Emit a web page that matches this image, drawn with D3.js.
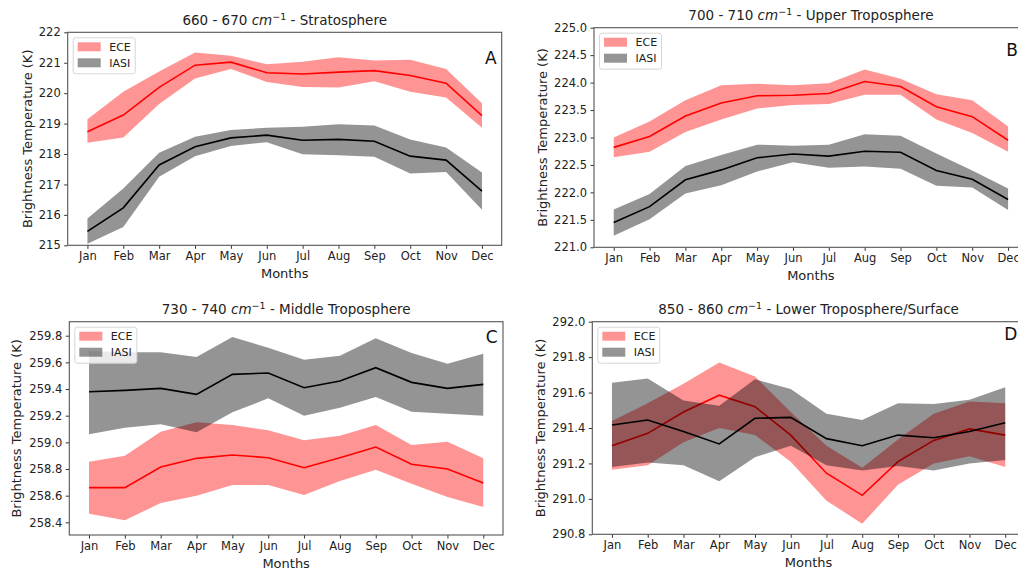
<!DOCTYPE html>
<html>
<head>
<meta charset="utf-8">
<script src="https://cdn.jsdelivr.net/npm/d3@7"></script>
<style>
  body { margin: 0; background: #fff; }
  svg { display: block; font-family: "DejaVu Sans", sans-serif; }
</style>
</head>
<body>
<svg id="chart" width="1018" height="569"></svg>
<script>
// months on the x axis
var months = ["Jan", "Feb", "Mar", "Apr", "May", "Jun", "Jul", "Aug", "Sep", "Oct", "Nov", "Dec"];

// A - 660-670 Stratosphere
var strEceMean = [218.73, 219.28, 220.19, 220.92, 221.02, 220.67, 220.63, 220.69, 220.74, 220.58, 220.33, 219.26];
var strEceHigh = [219.14, 220.05, 220.71, 221.34, 221.23, 220.95, 221.03, 221.18, 221.07, 221.10, 220.79, 219.67];
var strEceLow  = [218.37, 218.54, 219.64, 220.48, 220.79, 220.37, 220.20, 220.19, 220.39, 220.05, 219.86, 218.86];
var strIasiMean = [215.46, 216.23, 217.64, 218.24, 218.53, 218.62, 218.45, 218.48, 218.42, 217.93, 217.80, 216.78];
var strIasiHigh = [215.88, 216.87, 218.04, 218.57, 218.79, 218.86, 218.90, 218.98, 218.94, 218.48, 218.21, 217.39];
var strIasiLow  = [215.05, 215.60, 217.25, 217.93, 218.26, 218.39, 217.99, 217.96, 217.91, 217.36, 217.41, 216.17];

// B - 700-710 Upper Troposphere
var utEceMean = [222.82, 223.02, 223.39, 223.63, 223.76, 223.77, 223.80, 224.02, 223.93, 223.56, 223.38, 222.95];
var utEceHigh = [223.00, 223.29, 223.68, 223.95, 223.98, 223.95, 223.99, 224.24, 224.07, 223.79, 223.68, 223.20];
var utEceLow  = [222.64, 222.74, 223.10, 223.33, 223.53, 223.59, 223.61, 223.78, 223.78, 223.33, 223.08, 222.74];
var utIasiMean = [221.45, 221.74, 222.23, 222.41, 222.63, 222.70, 222.66, 222.75, 222.73, 222.40, 222.24, 221.87];
var utIasiHigh = [221.69, 221.97, 222.48, 222.68, 222.87, 222.85, 222.87, 223.06, 223.03, 222.71, 222.40, 222.07];
var utIasiLow  = [221.21, 221.51, 221.98, 222.13, 222.38, 222.55, 222.45, 222.47, 222.43, 222.12, 222.09, 221.68];

// C - 730-740 Middle Troposphere
var mtEceMean = [258.66, 258.66, 258.815, 258.88, 258.905, 258.885, 258.81, 258.885, 258.965, 258.835, 258.80, 258.695];
var mtEceHigh = [258.855, 258.90, 259.08, 259.15, 259.13, 259.09, 259.015, 259.05, 259.13, 258.98, 259.005, 258.88];
var mtEceLow  = [258.465, 258.415, 258.545, 258.60, 258.68, 258.68, 258.605, 258.71, 258.795, 258.69, 258.59, 258.515];
var mtIasiMean = [259.38, 259.39, 259.405, 259.36, 259.51, 259.52, 259.41, 259.46, 259.56, 259.45, 259.405, 259.435];
var mtIasiHigh = [259.685, 259.675, 259.675, 259.64, 259.79, 259.71, 259.62, 259.65, 259.78, 259.67, 259.59, 259.665];
var mtIasiLow  = [259.06, 259.11, 259.135, 259.075, 259.225, 259.33, 259.20, 259.26, 259.34, 259.23, 259.215, 259.20];

// D - 850-860 Lower Troposphere/Surface
var ltEceMean = [291.30, 291.37, 291.49, 291.585, 291.52, 291.36, 291.145, 291.02, 291.21, 291.33, 291.395, 291.36];
var ltEceHigh = [291.44, 291.54, 291.65, 291.77, 291.69, 291.49, 291.30, 291.175, 291.335, 291.48, 291.55, 291.54];
var ltEceLow  = [291.165, 291.19, 291.32, 291.40, 291.36, 291.21, 290.99, 290.86, 291.08, 291.20, 291.24, 291.18];
var ltIasiMean = [291.417, 291.445, 291.38, 291.31, 291.455, 291.46, 291.34, 291.30, 291.36, 291.345, 291.38, 291.43];
var ltIasiHigh = [291.655, 291.68, 291.555, 291.525, 291.675, 291.62, 291.48, 291.445, 291.54, 291.535, 291.56, 291.63];
var ltIasiLow  = [291.18, 291.205, 291.19, 291.10, 291.235, 291.30, 291.19, 291.16, 291.185, 291.16, 291.20, 291.22];

// y tick values
var strTicks = [215, 216, 217, 218, 219, 220, 221, 222];
var utTicks = [221.0, 221.5, 222.0, 222.5, 223.0, 223.5, 224.0, 224.5, 225.0];
var mtTicks = [258.4, 258.6, 258.8, 259.0, 259.2, 259.4, 259.6, 259.8];
var ltTicks = [290.8, 291.0, 291.2, 291.4, 291.6, 291.8, 292.0];

var panels = [
  { band: "660 - 670 ", region: " - Stratosphere", letter: "A",
    ece: [strEceMean, strEceHigh, strEceLow], iasi: [strIasiMean, strIasiHigh, strIasiLow],
    ticks: strTicks, fmt: d3.format("d"), ydom: [215, 222],
    left: 67.7, top: 32.3, right: 501.7, bottom: 245.3, ylab: 36, letterPos: [490.7, 63.5] },
  { band: "700 - 710 ", region: " - Upper Troposphere", letter: "B",
    ece: [utEceMean, utEceHigh, utEceLow], iasi: [utIasiMean, utIasiHigh, utIasiLow],
    ticks: utTicks, fmt: d3.format(".1f"), ydom: [221, 225],
    left: 594, top: 27.7, right: 1027.8, bottom: 247.3, ylab: 47.5, letterPos: [1012, 56] },
  { band: "730 - 740 ", region: " - Middle Troposphere", letter: "C",
    ece: [mtEceMean, mtEceHigh, mtEceLow], iasi: [mtIasiMean, mtIasiHigh, mtIasiLow],
    ticks: mtTicks, fmt: d3.format(".1f"), ydom: [258.305, 259.905],
    left: 69.3, top: 321.7, right: 503, bottom: 535, ylab: 48, letterPos: [491.7, 342.5] },
  { band: "850 - 860 ", region: " - Lower Troposphere/Surface", letter: "D",
    ece: [ltEceMean, ltEceHigh, ltEceLow], iasi: [ltIasiMean, ltIasiHigh, ltIasiLow],
    ticks: ltTicks, fmt: d3.format(".1f"), ydom: [290.8, 292.0],
    left: 592.3, top: 321.7, right: 1024.9, bottom: 534.3, ylab: 47, letterPos: [1010.7, 340] }
];

var svg = d3.select("#chart");
var red = "#ff0000", alpha = 0.42;

panels.forEach(function(p) {
  var g = svg.append("g");

  var x = d3.scalePoint().domain(months).range([p.left, p.right]).padding(0.55);
  var y = d3.scaleLinear().domain(p.ydom).range([p.bottom, p.top]);

  function band(s) {
    return d3.area()
      .x(function(d, i) { return x(months[i]); })
      .y0(function(d, i) { return y(s[2][i]); })
      .y1(function(d, i) { return y(s[1][i]); })(s[0]);
  }
  var line = d3.line()
    .x(function(d, i) { return x(months[i]); })
    .y(function(d) { return y(d); });

  // clip so things stay in the axes box
  var clipId = "clip" + p.letter;
  g.append("clipPath").attr("id", clipId).append("rect")
    .attr("x", p.left).attr("y", p.top)
    .attr("width", p.right - p.left).attr("height", p.bottom - p.top);
  var plot = g.append("g").attr("clip-path", "url(#" + clipId + ")");

  plot.append("path").attr("d", band(p.ece)).attr("fill", red).attr("fill-opacity", alpha);
  plot.append("path").attr("d", line(p.ece[0])).attr("fill", "none").attr("stroke", red).attr("stroke-width", 1.6);
  plot.append("path").attr("d", band(p.iasi)).attr("fill", "#000").attr("fill-opacity", alpha);
  plot.append("path").attr("d", line(p.iasi[0])).attr("fill", "none").attr("stroke", "#000").attr("stroke-width", 1.6);

  // axes
  var xAxis = g.append("g").attr("transform", "translate(0," + p.bottom + ")")
    .call(d3.axisBottom(x).tickSize(3.5).tickPadding(3.5));
  var yAxis = g.append("g").attr("transform", "translate(" + p.left + ",0)")
    .call(d3.axisLeft(y).tickValues(p.ticks).tickFormat(p.fmt).tickSize(3.5).tickPadding(3.5));
  [xAxis, yAxis].forEach(function(a) {
    a.select(".domain").remove();
    a.selectAll("line").attr("stroke", "#333");
    a.selectAll("text").attr("fill", "#222").style("font-size", "11.5px").style("font-family", "DejaVu Sans");
  });

  g.append("rect")
    .attr("x", p.left).attr("y", p.top)
    .attr("width", p.right - p.left).attr("height", p.bottom - p.top)
    .attr("fill", "none").attr("stroke", "#555").attr("stroke-width", 1.1);

  var cx = (p.left + p.right) / 2;

  // title with italic cm and superscript -1
  var t = g.append("text").attr("x", cx).attr("y", p.top - 7.5)
    .attr("text-anchor", "middle").attr("fill", "#222").style("font-size", "13.5px");
  t.append("tspan").text(p.band);
  t.append("tspan").attr("font-style", "italic").text("cm");
  t.append("tspan").attr("dy", -5).style("font-size", "9.5px").text("\u22121");
  t.append("tspan").attr("dy", 5).text(p.region);

  g.append("text").attr("x", cx).attr("y", p.bottom + 33)
    .attr("text-anchor", "middle").attr("fill", "#222").style("font-size", "13px").text("Months");

  g.append("text")
    .attr("transform", "translate(" + (p.left - p.ylab) + "," + ((p.top + p.bottom) / 2) + ") rotate(-90)")
    .attr("text-anchor", "middle").attr("fill", "#222").style("font-size", "13px")
    .text("Brightness Temperature (K)");

  g.append("text").attr("x", p.letterPos[0]).attr("y", p.letterPos[1])
    .attr("text-anchor", "middle").attr("fill", "#111").style("font-size", "17px").text(p.letter);

  // legend
  var lg = g.append("g").attr("transform", "translate(" + (p.left + 5.5) + "," + (p.top + 5.5) + ")");
  lg.append("rect").attr("width", 62).attr("height", 36).attr("rx", 2.5)
    .attr("fill", "#fff").attr("fill-opacity", 0.8).attr("stroke", "#d6d6d6");
  [["ECE", red], ["IASI", "#000"]].forEach(function(e, i) {
    var yy = 9 + i * 16;
    lg.append("rect").attr("x", 4.5).attr("y", yy - 4.5).attr("width", 23).attr("height", 9)
      .attr("fill", e[1]).attr("fill-opacity", alpha);
    lg.append("text").attr("x", 36).attr("y", yy + 4).attr("fill", "#222")
      .style("font-size", "11px").text(e[0]);
  });
});
</script>
</body>
</html>
